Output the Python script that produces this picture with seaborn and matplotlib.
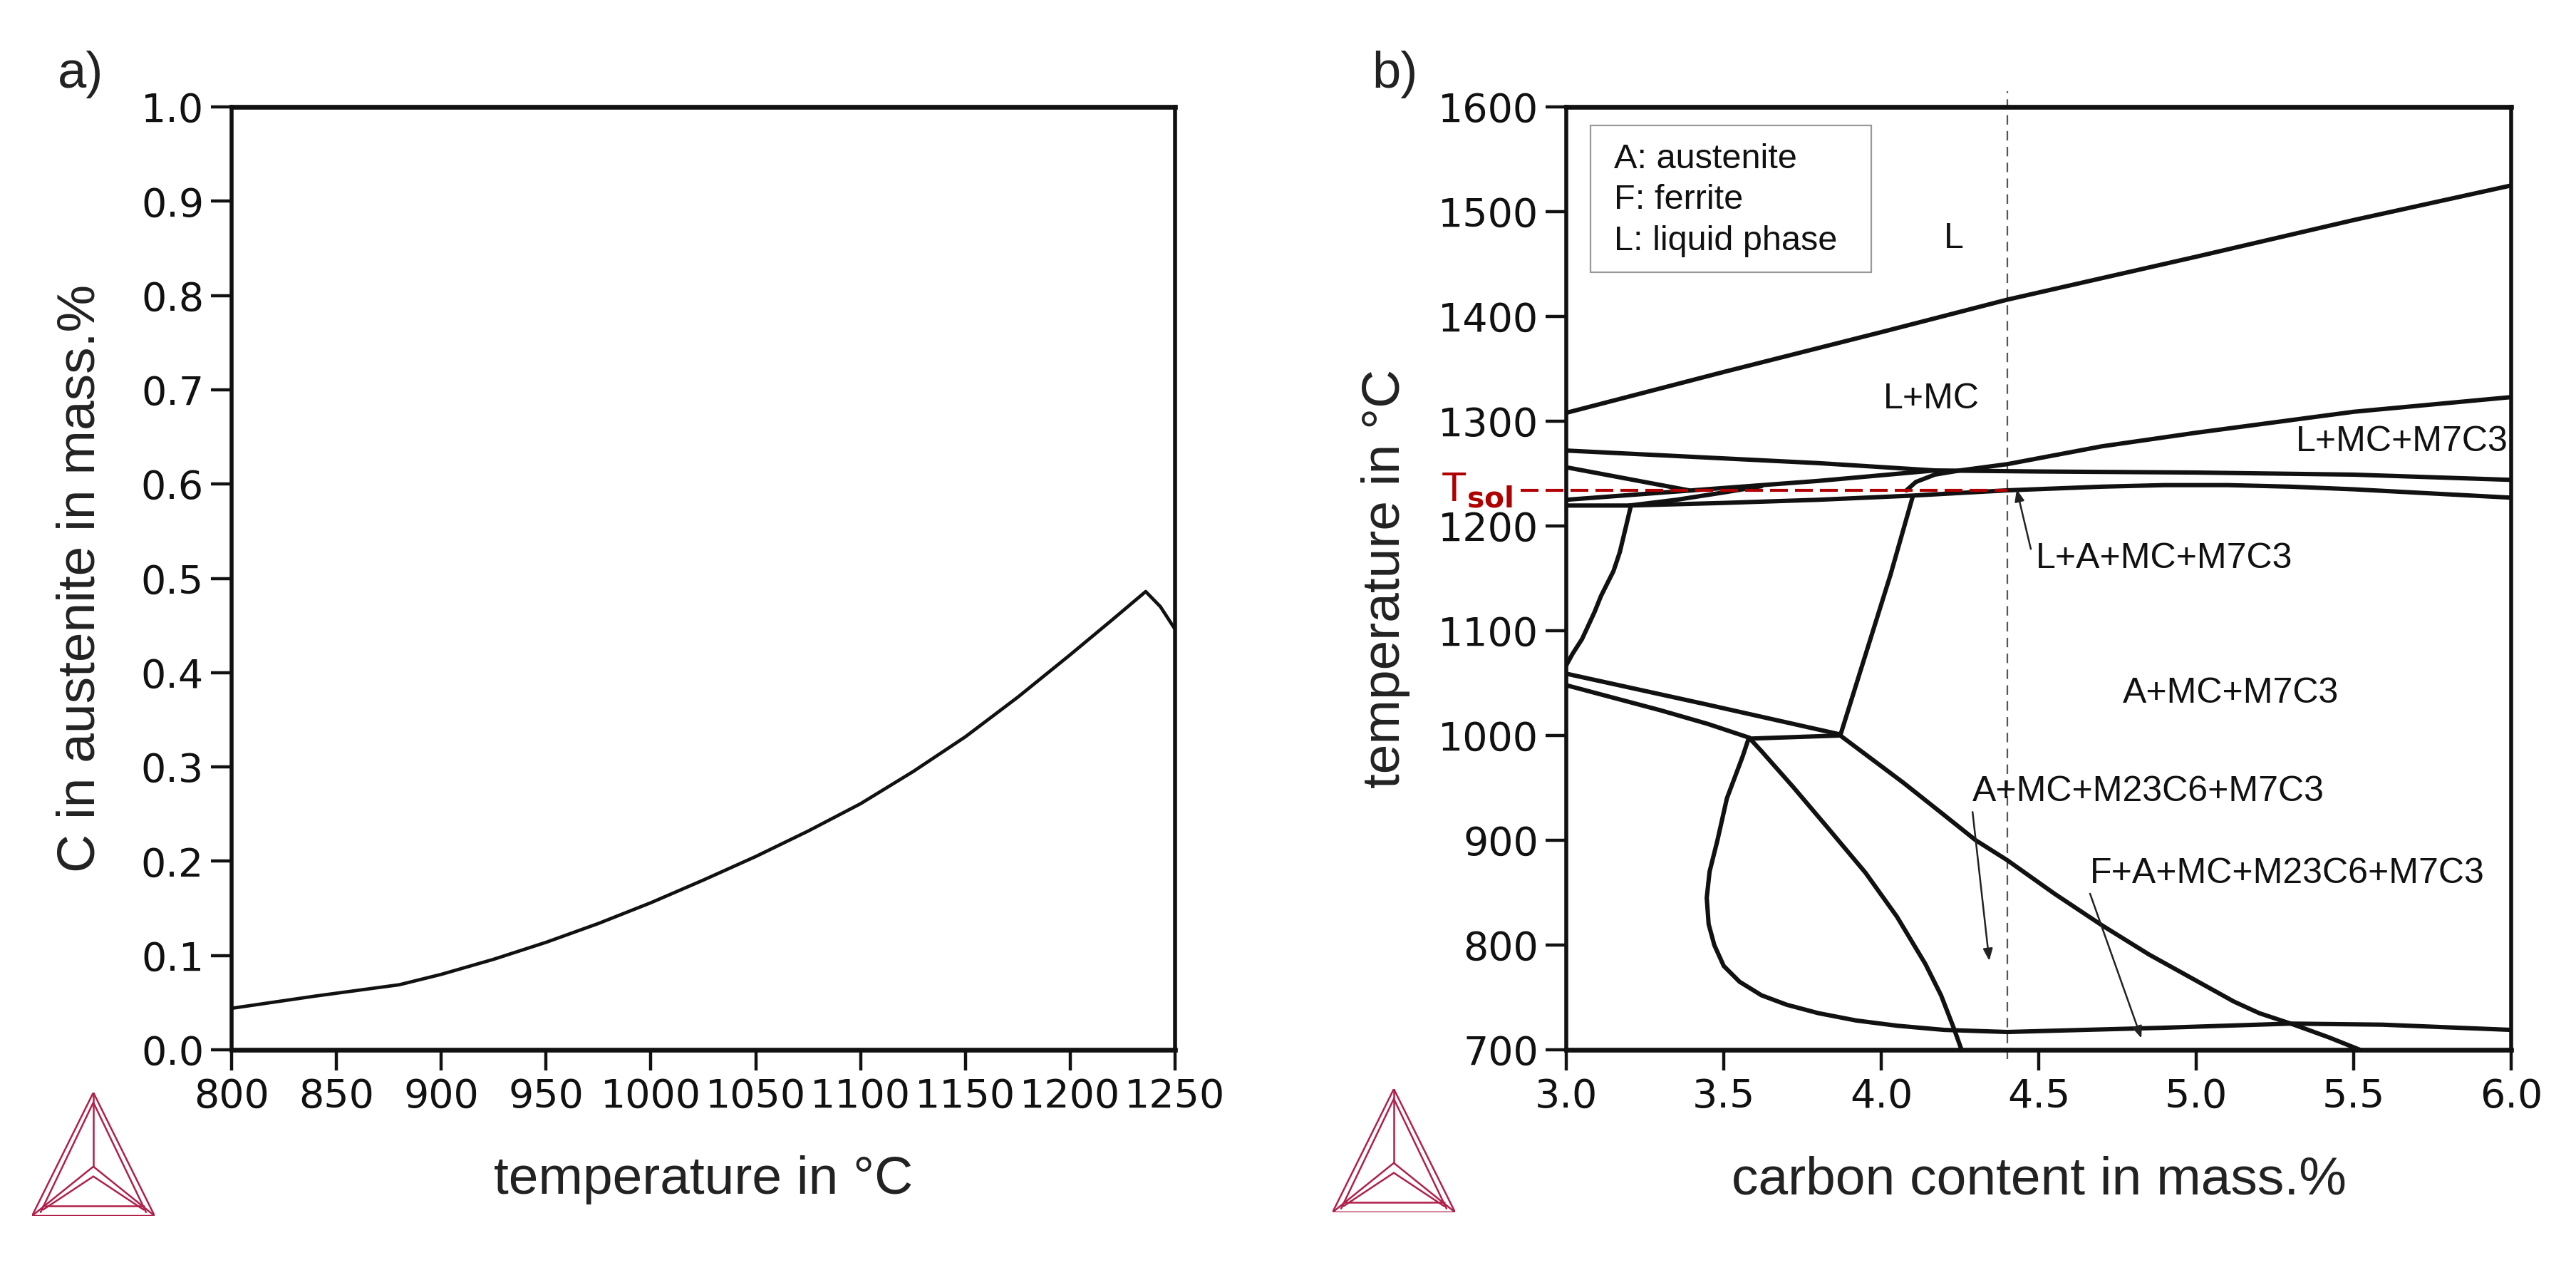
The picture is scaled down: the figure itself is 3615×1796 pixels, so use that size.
import numpy as np
import pandas as pd
import matplotlib
matplotlib.use("Agg")
import matplotlib.pyplot as plt
import seaborn as sns
from matplotlib.patches import Rectangle

# ---- a) carbon dissolved in austenite vs temperature ----
temp_a = [800, 840, 880, 900, 925, 950, 975, 1000, 1025, 1050, 1075, 1100,
          1125, 1150, 1175, 1200, 1220, 1236, 1243, 1250]
c_austenite = [0.044, 0.057, 0.069, 0.080, 0.096, 0.114, 0.134, 0.156, 0.180,
               0.205, 0.232, 0.261, 0.295, 0.332, 0.374, 0.419, 0.456, 0.486,
               0.470, 0.446]

# ---- b) isopleth, phase boundaries (carbon mass.%, temperature degC) ----
liquidus_c = [3.0, 3.5, 4.0, 4.4, 5.0, 5.5, 6.0]
liquidus_t = [1308, 1347, 1385, 1416, 1457, 1492, 1525]

m7c3_c = [4.08, 4.11, 4.17, 4.25, 4.4, 4.7, 5.0, 5.5, 6.0]
m7c3_t = [1234, 1242, 1249, 1253, 1259, 1276, 1289, 1309, 1323]

upper_c = [3.0, 3.4, 3.8, 4.17, 4.5, 5.0, 5.5, 6.0]
upper_t = [1272, 1266, 1260, 1253, 1252, 1251, 1249, 1244]

short_c = [3.0, 3.39]
short_t = [1256, 1234]

mid_c = [3.0, 3.4, 3.8, 4.17]
mid_t = [1225, 1234, 1243, 1253]

lower_c = [3.0, 3.2, 3.5, 3.8, 4.1, 4.4, 4.7, 4.9, 5.1, 5.3, 5.5, 5.75, 6.0]
lower_t = [1219.5, 1219.5, 1222, 1225, 1229, 1234, 1237.5, 1239, 1239, 1237.5, 1235, 1231, 1227]

branch_c = [3.2, 3.35, 3.5, 3.62]
branch_t = [1219.5, 1225, 1232, 1238]

left_c = [3.205, 3.19, 3.17, 3.15, 3.13, 3.11, 3.09, 3.05, 3.02, 3.0]
left_t = [1219, 1200, 1175, 1157, 1145, 1133, 1118, 1092, 1078, 1067]

steep_c = [3.87, 3.95, 4.03, 4.10]
steep_t = [1000, 1077, 1154, 1228]

a_c = [3.0, 3.44, 3.87]
a_t = [1059, 1030, 1001]

b_c = [3.0, 3.15, 3.3, 3.45, 3.58]
b_t = [1048, 1036, 1024, 1011, 998]

link_c = [3.58, 3.87]
link_t = [997, 1000]

ferrite_c = [3.87, 3.95, 4.07, 4.2, 4.30, 4.40, 4.55, 4.70, 4.85, 5.0, 5.12,
             5.2, 5.31, 5.42, 5.52]
ferrite_t = [1000, 982, 955, 924, 900, 881, 849, 819, 791, 766, 746,
             735, 724, 712, 700]

m23_c = [3.58, 3.62, 3.72, 3.83, 3.95, 4.05, 4.14, 4.19, 4.23, 4.255]
m23_t = [998, 985, 951, 912, 869, 827, 782, 752, 721, 700]

loop_c = [3.58, 3.56, 3.51, 3.48, 3.455, 3.446, 3.452, 3.47, 3.50, 3.55, 3.62,
          3.70, 3.80, 3.92, 4.05, 4.2, 4.4, 4.89, 5.3, 5.59, 6.0]
loop_t = [998, 980, 940, 900, 870, 845, 820, 800, 780, 765, 752,
          743, 735, 728, 723, 719, 717, 721, 725, 724, 719]

x_sample = 4.4
t_sol = 1234

boundaries = {
    "liquidus": (liquidus_c, liquidus_t), "m7c3": (m7c3_c, m7c3_t),
    "upper": (upper_c, upper_t), "short": (short_c, short_t),
    "mid": (mid_c, mid_t), "lower": (lower_c, lower_t),
    "branch": (branch_c, branch_t), "left": (left_c, left_t),
    "steep": (steep_c, steep_t), "a": (a_c, a_t), "b": (b_c, b_t),
    "link": (link_c, link_t), "ferrite": (ferrite_c, ferrite_t),
    "m23": (m23_c, m23_t), "loop": (loop_c, loop_t),
}

rows = []
for name, (cs, ts) in boundaries.items():
    for c, t in zip(cs, ts):
        rows.append((name, c, t))
df_b = pd.DataFrame(rows, columns=["boundary", "carbon", "temp"])
df_a = pd.DataFrame({"temp": temp_a, "carbon": c_austenite})

sns.set_style("ticks")
plt.rcParams["font.family"] = ["Liberation Sans", "DejaVu Sans"]
plt.rcParams["mathtext.fontset"] = "dejavusans"

W, H = 3616, 1796
fig = plt.figure(figsize=(W / 200, H / 200), dpi=200)

ax1 = fig.add_axes([325 / W, 1 - 1473 / H, 1324 / W, 1323 / H])
ax2 = fig.add_axes([2198 / W, 1 - 1473 / H, 1326 / W, 1323 / H])

# panel a
sns.lineplot(data=df_a, x="temp", y="carbon", color="#111111", lw=1.7,
             sort=False, ax=ax1)
ax1.set_xlim(800, 1250)
ax1.set_ylim(0, 1.0)
ax1.set_xticks(np.arange(800, 1251, 50))
ax1.set_yticks(np.arange(0, 1.01, 0.1))
ax1.set_yticklabels([f"{v:.1f}" for v in np.arange(0, 1.01, 0.1)])
ax1.set_xlabel("temperature in °C", fontsize=27, color="#222222")
ax1.set_ylabel("C in austenite in mass.%", fontsize=27, color="#222222")
ax1.xaxis.set_label_coords(0.5, -0.138)
ax1.xaxis.label.set_va("center")
ax1.yaxis.set_label_coords(-0.160, 0.5)
ax1.yaxis.label.set_va("center")

# panel b
sns.lineplot(data=df_b, x="carbon", y="temp", units="boundary", estimator=None,
             sort=False, color="#111111", lw=2.2, ax=ax2)
ax2.set_xlim(3.0, 6.0)
ax2.set_ylim(700, 1600)
ax2.set_xticks(np.arange(3.0, 6.01, 0.5))
ax2.set_xticklabels([f"{v:.1f}" for v in np.arange(3.0, 6.01, 0.5)])
ax2.set_yticks(np.arange(700, 1601, 100))
ax2.set_xlabel("carbon content in mass.%", fontsize=27, color="#222222")
ax2.set_ylabel("temperature in °C", fontsize=27, color="#222222")
ax2.xaxis.set_label_coords(0.5, -0.138)
ax2.xaxis.label.set_va("center")
ax2.yaxis.set_label_coords(-0.191, 0.5)
ax2.yaxis.label.set_va("center")

for ax in (ax1, ax2):
    for side in ["top", "bottom", "left", "right"]:
        ax.spines[side].set_visible(True)
        ax.spines[side].set_color("#111111")
        ax.spines[side].set_linewidth(2.0)
    ax.spines["top"].set_linewidth(2.4)
    ax.spines["bottom"].set_linewidth(2.4)
    ax.tick_params(axis="both", direction="out", length=10.5, width=1.6,
                   pad=3.5, labelsize=20, colors="#111111")
    for lab in ax.get_xticklabels() + ax.get_yticklabels():
        lab.set_fontfamily("DejaVu Sans")
    ax.grid(False)

# sample composition and solidus temperature
ax2.axvline(x_sample, ymin=-0.01, ymax=1.017, color="#555555", lw=0.8,
            ls=(0, (6, 4)), clip_on=False, zorder=1)
red = "#b00000"
ax2.hlines(t_sol, 2.855, x_sample, colors=red, lw=1.5, linestyles=(0, (6, 2.4)),
           clip_on=False, zorder=3)
ax2.text(2.83, t_sol, r"T$_{\mathbf{sol}}$", color=red, fontsize=21,
         ha="right", va="center", clip_on=False)

# phase field labels
lab_kw = dict(fontsize=18, color="#111111")
ax2.text(4.23, 1474, "L", ha="center", va="center", **lab_kw)
ax2.text(4.16, 1321, "L+MC", ha="center", va="center", **lab_kw)
ax2.text(5.99, 1280, "L+MC+M7C3", ha="right", va="center", **lab_kw)
ax2.text(5.11, 1040, "A+MC+M7C3", ha="center", va="center", **lab_kw)
ax2.text(4.49, 1169, "L+A+MC+M7C3", ha="left", va="center", **lab_kw)
ax2.text(4.29, 946, "A+MC+M23C6+M7C3", ha="left", va="center", **lab_kw)
ax2.text(4.663, 868, "F+A+MC+M23C6+M7C3", ha="left", va="center", **lab_kw)

arrow_kw = dict(arrowstyle="-|>,head_length=0.5,head_width=0.2", color="#222222",
                lw=0.9, shrinkA=0, shrinkB=0)
ax2.annotate("", xy=(4.43, 1235), xytext=(4.475, 1178), arrowprops=arrow_kw)
ax2.annotate("", xy=(4.343, 785), xytext=(4.29, 927), arrowprops=arrow_kw)
ax2.annotate("", xy=(4.826, 711), xytext=(4.663, 849), arrowprops=arrow_kw)

# key box
ax2.add_patch(Rectangle((3.077, 1442), 0.891, 140, fill=True, fc="white",
                        ec="#999999", lw=0.8, zorder=2))
for t, s in zip([1550, 1511, 1472], ["A: austenite", "F: ferrite", "L: liquid phase"]):
    ax2.text(3.152, t, s, fontsize=17.5, color="#111111", ha="left", va="center",
             zorder=3)

# panel letters
fig.text(81 / W, 1 - 123 / H, "a)", fontsize=26, color="#222222", va="baseline")
fig.text(1925 / W, 1 - 123 / H, "b)", fontsize=26, color="#222222", va="baseline")


# software logo in the corners
def draw_logo(rect):
    lax = fig.add_axes(rect)
    lax.set_xlim(0, 1)
    lax.set_ylim(0, 1)
    lax.axis("off")
    col = "#b0204a"
    segs = [
        [(0, 0), (0.5, 1), (1, 0), (0, 0)],
        [(0.07, 0.03), (0.5, 0.92), (0.93, 0.03)],
        [(0.5, 1), (0.5, 0.4)],
        [(0, 0), (0.5, 0.4), (1, 0)],
        [(0.09, 0.05), (0.5, 0.32), (0.91, 0.05)],
        [(0.09, 0.08), (0.91, 0.08)],
    ]
    for seg in segs:
        xs, ys = zip(*seg)
        lax.plot(xs, ys, color=col, lw=0.9, solid_joinstyle="miter")


draw_logo([45 / W, 1 - 1706 / H, 172 / W, 173 / H])
draw_logo([1870 / W, 1 - 1701 / H, 172 / W, 173 / H])

fig.savefig("out.png", dpi=200, facecolor="white")
